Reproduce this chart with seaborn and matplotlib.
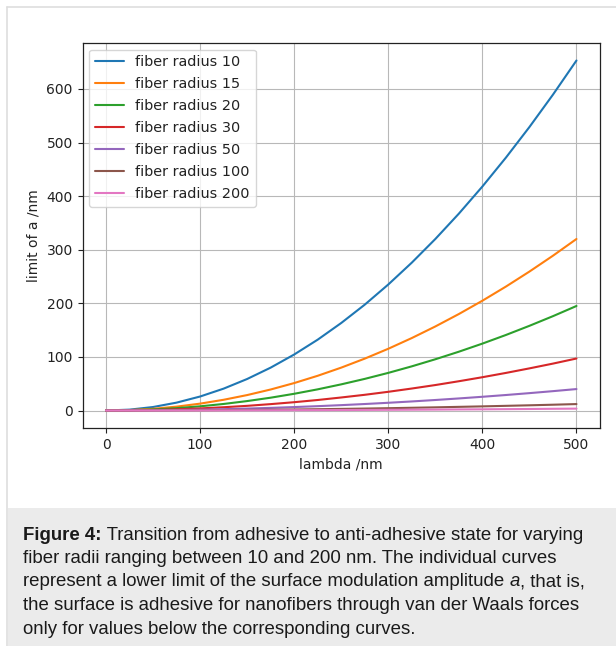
import numpy as np
import pandas as pd
import matplotlib
matplotlib.use("Agg")
import matplotlib.pyplot as plt
from matplotlib.patches import Rectangle
from matplotlib.lines import Line2D
import seaborn as sns

# ---- data ----
lambda_nm = [0, 25, 50, 75, 100, 125, 150, 175, 200, 225, 250, 275, 300,
             325, 350, 375, 400, 425, 450, 475, 500]
radius_labels = ["fiber radius 10", "fiber radius 15", "fiber radius 20",
                 "fiber radius 30", "fiber radius 50", "fiber radius 100",
                 "fiber radius 200"]
r10 = [0, 1.6, 6.5, 14.7, 26.1, 40.8, 58.8, 80.0, 104.5, 132.2, 163.3, 197.5,
       235.1, 275.9, 320.0, 367.3, 417.9, 471.8, 528.9, 589.3, 653]
r15 = [0, 0.8, 3.2, 7.2, 12.8, 20.0, 28.8, 39.2, 51.2, 64.8, 80.0, 96.8,
       115.2, 135.2, 156.8, 180.0, 204.8, 231.2, 259.2, 288.8, 320]
r20 = [0, 0.5, 2.0, 4.4, 7.8, 12.2, 17.6, 23.9, 31.2, 39.5, 48.8, 59.0,
       70.2, 82.4, 95.6, 109.7, 124.8, 140.9, 158.0, 176.0, 195]
r30 = [0, 0.2, 1.0, 2.2, 3.9, 6.1, 8.7, 11.9, 15.5, 19.6, 24.3, 29.3,
       34.9, 41.0, 47.5, 54.6, 62.1, 70.1, 78.6, 87.5, 97]
r50 = [0, 0.1, 0.4, 0.9, 1.6, 2.5, 3.6, 4.9, 6.4, 8.1, 10.0, 12.1,
       14.4, 16.9, 19.6, 22.5, 25.6, 28.9, 32.4, 36.1, 40]
r100 = [0, 0.0, 0.1, 0.3, 0.5, 0.8, 1.1, 1.5, 1.9, 2.4, 3.0, 3.6,
        4.3, 5.1, 5.9, 6.8, 7.7, 8.7, 9.7, 10.8, 12]
r200 = [0, 0.0, 0.0, 0.1, 0.1, 0.2, 0.3, 0.4, 0.6, 0.7, 0.9, 1.1,
        1.3, 1.5, 1.7, 2.0, 2.2, 2.5, 2.8, 3.2, 3.5]
series = [r10, r15, r20, r30, r50, r100, r200]

x_label = "lambda /nm"
y_label = "limit of a /nm"

caption_lines = [
    ("Figure 4:", " Transition from adhesive to anti-adhesive state for varying"),
    ("", "fiber radii ranging between 10 and 200 nm. The individual curves"),
    ("", "represent a lower limit of the surface modulation amplitude "),
    ("", "the surface is adhesive for nanofibers through van der Waals forces"),
    ("", "only for values below the corresponding curves."),
]

rows = []
for lab, vals in zip(radius_labels, series):
    for xv, yv in zip(lambda_nm, vals):
        rows.append({"lambda": xv, "a": yv, "radius": lab})
df = pd.DataFrame(rows)

sns.set_style("ticks")
plt.rcParams.update({
    "font.family": ["DejaVu Sans"],
    "axes.grid": True,
    "grid.color": "#b8b8b8",
    "grid.linewidth": 0.8,
    "axes.edgecolor": "#222222",
    "axes.linewidth": 0.9,
    "xtick.color": "#222222",
    "ytick.color": "#222222",
    "text.color": "#222222",
    "axes.labelcolor": "#222222",
    "font.size": 10,
})

W, H = 616, 646
fig = plt.figure(figsize=(W / 100, H / 100), dpi=100)
fig.patch.set_facecolor("white")

# outer panel border and caption box
fig.add_artist(Line2D([7 / W, 1], [1 - 7 / H, 1 - 7 / H], color="#dedede", lw=1.2,
                      transform=fig.transFigure))
fig.add_artist(Line2D([7 / W, 7 / W], [1 - 7 / H, 0], color="#dedede", lw=1.2,
                      transform=fig.transFigure))
fig.add_artist(Rectangle((7.5 / W, 0), 1, (H - 508) / H, transform=fig.transFigure,
                         facecolor="#ebebeb", edgecolor="none"))

ax = fig.add_axes([82.5 / W, 1 - 428 / H, (600 - 82.5) / W, (428 - 43) / H])
palette = sns.color_palette("tab10", 7)
sns.lineplot(data=df, x="lambda", y="a", hue="radius", hue_order=radius_labels,
             palette=palette, linewidth=1.5, ax=ax)
ax.set_xlim(-25, 525)
ax.set_ylim(-32.65, 685.65)
ax.set_xticks([0, 100, 200, 300, 400, 500])
ax.set_yticks([0, 100, 200, 300, 400, 500, 600])
ax.set_xlabel(x_label, fontsize=10)
ax.set_ylabel(y_label, fontsize=10)
ax.tick_params(labelsize=10, length=3.5, width=0.8)
sns.move_legend(ax, "upper left", title=None, frameon=True, fontsize=10.4,
                labelspacing=0.55, borderaxespad=0.45)
leg = ax.get_legend()
leg.get_frame().set_edgecolor("#cccccc")

# caption text
cap_font = ["Liberation Sans", "DejaVu Sans"]
cap_size = 13.42
cap_color = "#1a1a1a"
baselines = [539.5, 563, 586.5, 610, 633.5]
x0 = 23 / W
fig.canvas.draw()
renderer = fig.canvas.get_renderer()
for i, (bold, rest) in enumerate(caption_lines):
    yb = 1 - baselines[i] / H
    x = x0
    if bold:
        t = fig.text(x, yb, bold, fontsize=cap_size, family=cap_font, weight="bold",
                     color=cap_color, va="baseline", ha="left")
        bb = t.get_window_extent(renderer=renderer)
        x = bb.x1 / W
    t = fig.text(x, yb, rest, fontsize=cap_size, family=cap_font, color=cap_color,
                 va="baseline", ha="left")
    if i == 2:
        bb = t.get_window_extent(renderer=renderer)
        t2 = fig.text(bb.x1 / W, yb, "a", fontsize=cap_size, family=cap_font,
                      style="italic", color=cap_color, va="baseline", ha="left")
        bb2 = t2.get_window_extent(renderer=renderer)
        fig.text(bb2.x1 / W, yb, ", that is,", fontsize=cap_size, family=cap_font,
                 color=cap_color, va="baseline", ha="left")

fig.savefig("out.png", dpi=100)
